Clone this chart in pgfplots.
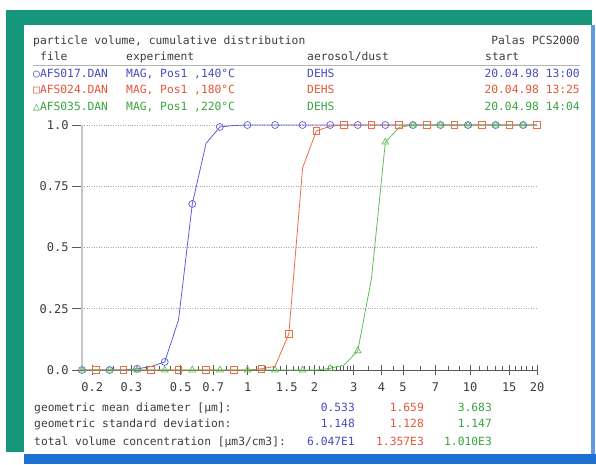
\documentclass[border=0pt]{standalone}
\usepackage{fontspec}
\setmainfont{DejaVu Sans Mono}
\setmonofont{DejaVu Sans Mono}
\usepackage{pgfplots}
\usepackage{pgfplotstable}
\pgfplotsset{compat=1.18}

\definecolor{frameteal}{RGB}{22,150,122}
\definecolor{frameblue}{RGB}{28,112,210}
\definecolor{txt}{RGB}{60,60,60}
\definecolor{tblue}{RGB}{70,75,190}
\definecolor{tred}{RGB}{228,85,55}
\definecolor{tgreen}{RGB}{55,165,60}
\definecolor{lblue}{RGB}{95,95,215}
\definecolor{lred}{RGB}{235,110,70}
\definecolor{lgreen}{RGB}{95,190,85}

\newcommand\tf{\fontsize{11.3}{12}\selectfont}

% cumulative volume fraction per size channel (diameter in um)
\pgfplotstableread{
x       blue   red    green
0.1800  0      0      0
0.2076  0      0      0
0.2395  0      0      0
0.2762  0      0      0
0.3186  0.005  0      0
0.3675  0.014  0      0
0.4238  0.033  0      0
0.4889  0.204  0      0
0.5639  0.678  0      0
0.6504  0.925  0      0
0.7502  0.992  0      0
0.8653  0.998  0      0
0.9980  1      0      0
1.1511  1      0.005  0
1.3278  1      0.015  0
1.5315  1      0.147  0
1.7664  1      0.825  0
2.0375  1      0.976  0
2.3501  1      0.995  0.007
2.7106  1      1      0.020
3.1265  1      1      0.078
3.6062  1      1      0.375
4.1595  1      1      0.930
4.7976  1      1      0.990
5.5337  1      1      1
6.3827  1      1      1
7.3620  1      1      1
8.4915  1      1      1
9.7943  1      1      1
11.297  1      1      1
13.030  1      1      1
15.029  1      1      1
17.335  1      1      1
20.000  1      1      1
}\cumdata

\begin{document}
\begin{tikzpicture}[x=1pt,y=1pt]
\path[use as bounding box] (0,0) rectangle (596,-464);
% frame
\fill[frameteal] (6,-10) rectangle (592,-25);
\fill[frameteal] (6,-10) rectangle (24,-452);
\fill[frameblue] (24,-454) rectangle (596,-464);
\fill[frameblue!70] (591,-25) rectangle (595,-454);

% header
\node[anchor=base west, inner sep=0, text=txt] at (33,-44) {\tf particle volume, cumulative distribution};
\node[anchor=base east, inner sep=0, text=txt] at (580,-44) {\tf Palas PCS2000};
\node[anchor=base west, inner sep=0, text=txt] at (40,-60) {\tf file};
\node[anchor=base west, inner sep=0, text=txt] at (126,-60) {\tf experiment};
\node[anchor=base west, inner sep=0, text=txt] at (307,-60) {\tf aerosol/dust};
\node[anchor=base west, inner sep=0, text=txt] at (485,-60) {\tf start};
\draw[gray!60, line width=1.5pt] (33,-65.5) -- (580,-65.5);

\node[anchor=base west, inner sep=0, text=tblue] at (33,-77) {\tf ○AFS017.DAN};
\node[anchor=base west, inner sep=0, text=tblue] at (126,-77) {\tf MAG, Pos1 ,140°C};
\node[anchor=base west, inner sep=0, text=tblue] at (307,-77) {\tf DEHS};
\node[anchor=base east, inner sep=0, text=tblue] at (580,-77) {\tf 20.04.98 13:00};

\node[anchor=base west, inner sep=0, text=tred] at (33,-93.5) {\tf □AFS024.DAN};
\node[anchor=base west, inner sep=0, text=tred] at (126,-93.5) {\tf MAG, Pos1 ,180°C};
\node[anchor=base west, inner sep=0, text=tred] at (307,-93.5) {\tf DEHS};
\node[anchor=base east, inner sep=0, text=tred] at (580,-93.5) {\tf 20.04.98 13:25};

\node[anchor=base west, inner sep=0, text=tgreen] at (33,-110) {\tf △AFS035.DAN};
\node[anchor=base west, inner sep=0, text=tgreen] at (126,-110) {\tf MAG, Pos1 ,220°C};
\node[anchor=base west, inner sep=0, text=tgreen] at (307,-110) {\tf DEHS};
\node[anchor=base east, inner sep=0, text=tgreen] at (580,-110) {\tf 20.04.98 14:04};

% footer statistics
\node[anchor=base west, inner sep=0, text=txt] at (34,-411) {\tf geometric mean diameter [µm]:};
\node[anchor=base west, inner sep=0, text=txt] at (34,-427.5) {\tf geometric standard deviation:};
\node[anchor=base west, inner sep=0, text=txt] at (34,-445) {\tf total volume concentration [µm3/cm3]:};
\node[anchor=base east, inner sep=0, text=tblue] at (355,-411) {\tf 0.533};
\node[anchor=base east, inner sep=0, text=tblue] at (355,-427.5) {\tf 1.148};
\node[anchor=base east, inner sep=0, text=tblue] at (355,-445) {\tf 6.047E1};
\node[anchor=base east, inner sep=0, text=tred] at (424,-411) {\tf 1.659};
\node[anchor=base east, inner sep=0, text=tred] at (424,-427.5) {\tf 1.128};
\node[anchor=base east, inner sep=0, text=tred] at (424,-445) {\tf 1.357E3};
\node[anchor=base east, inner sep=0, text=tgreen] at (492,-411) {\tf 3.683};
\node[anchor=base east, inner sep=0, text=tgreen] at (492,-427.5) {\tf 1.147};
\node[anchor=base east, inner sep=0, text=tgreen] at (492,-445) {\tf 1.010E3};

\begin{axis}[
    at={(82pt,-370pt)}, anchor=south west,
    scale only axis, width=455pt, height=245pt,
    xmode=log, xmin=0.18, xmax=20, ymin=0, ymax=1,
    axis lines=left, axis line style={-},
    x axis line style={draw=gray!70!black, line width=0.8pt},
    y axis line style={draw=gray!45, line width=2pt},
    xtick={0.2,0.3,0.5,0.7,1,1.5,2,3,4,5,7,10,15,20},
    xticklabels={0.2,0.3,0.5,0.7,1,1.5,2,3,4,5,7,10,15,20},
    ytick={0,0.25,0.5,0.75,1},
    yticklabels={0.0,0.25,0.5,0.75,1.0},
    minor xtick={},
    xtick align=center, ytick align=outside,
    major tick length=10pt,
    tick style={draw=gray!70!black, line width=0.8pt},
    extra x ticks={0.25,0.35,0.4,0.45,0.6,0.8,0.9,1.1,1.2,1.3,1.4,1.6,1.7,1.8,1.9,2.1,2.2,2.3,2.4,2.5,2.6,2.7,2.8,2.9,3.5,4.5,6,8,9,11,12,13,14,16,17,18,19},
    extra x tick labels={},
    extra x tick style={tick align=inside, major tick length=4pt},
    ymajorgrids,
    major grid style={dotted, draw=gray!70, line width=0.8pt},
    ticklabel style={font=\fontsize{12}{12}\selectfont, text=txt},
    xticklabel style={yshift=-4pt},
    /pgf/number format/assume math mode=true,
    clip=false,
]
\addplot[color=lblue, line width=0.8pt, mark=o, mark size=3.5pt,
    mark repeat=2, mark phase=1, mark options={solid, line width=0.7pt}]
    table[x=x, y=blue] {\cumdata};
\addplot[color=lred, line width=0.8pt, mark=square, mark size=3.3pt,
    mark repeat=2, mark phase=2, mark options={solid, line width=0.7pt}]
    table[x=x, y=red] {\cumdata};
\addplot[color=lgreen, line width=0.8pt, mark=triangle, mark size=3.8pt,
    mark repeat=2, mark phase=1, mark options={solid, line width=0.7pt}]
    table[x=x, y=green] {\cumdata};
\end{axis}
\end{tikzpicture}
\end{document}
